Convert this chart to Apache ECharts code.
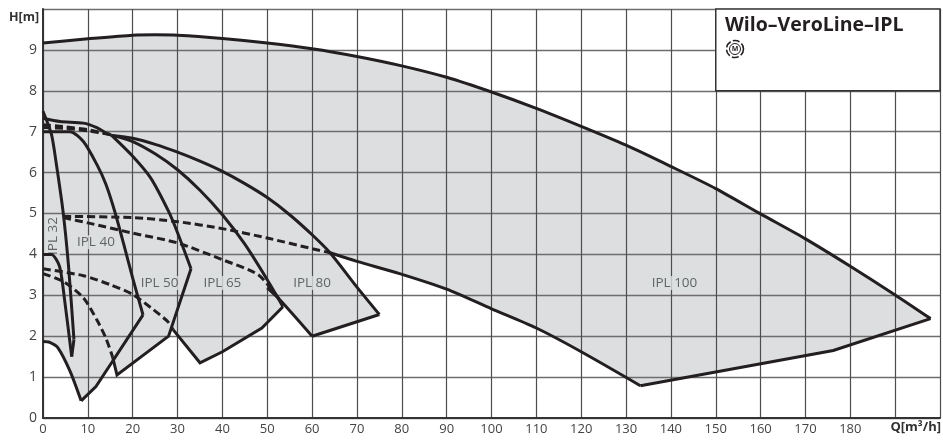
<!DOCTYPE html>
<html><head><meta charset="utf-8">
<style>html,body{margin:0;padding:0;background:#fff}#c{width:943px;height:444px}</style>
<script src="https://cdn.jsdelivr.net/npm/echarts@6/dist/echarts.min.js"></script>
</head><body><div id="c"></div>
<script>
const xTicks = [0,10,20,30,40,50,60,70,80,90,100,110,120,130,140,150,160,170,180];
const yTicks = [0,1,2,3,4,5,6,7,8,9];
const ipl100Top = [[0,9.17],[10,9.27],[20,9.36],[25,9.37],[30,9.36],[40,9.28],[50,9.17],[60,9.03],[70,8.84],[80,8.61],[90,8.33],[100,7.97],[110,7.57],[120,7.13],[130,6.67],[140,6.15],[150,5.61],[160,4.99],[170,4.38],[180,3.71],[190,3.01],[197.9,2.43]];
const ipl100Lower = [[64,4.04],[70,3.83],[79.5,3.53],[90,3.15],[100,2.67],[110,2.2],[120,1.62],[133.2,0.79]];
const ipl100Bottom = [[133.2,0.79],[176.2,1.65],[197.9,2.43]];
const sharedTop = [[0,7.33],[3.8,7.25],[9,7.21],[12,7.1],[14.2,6.96],[15.3,6.91]];
const ipl80Upper = [[15.3,6.91],[20,6.84],[25,6.69],[30,6.5],[35,6.28],[40,6.03],[45,5.73],[50,5.39],[55,4.97],[60,4.48],[64,4.04],[70,3.2],[75,2.53]];
const ipl80Bottom = [[75,2.53],[60,2.0]];
const ipl80Return = [[60,2.0],[52.8,2.89],[50,3.18]];
const ipl65Upper = [[15.3,6.91],[20,6.76],[25,6.46],[30,6.07],[35,5.57],[40,4.97],[45,4.25],[50,3.38],[53.5,2.72]];
const ipl65Bottom = [[53.5,2.72],[48.8,2.2],[40,1.62],[35,1.35],[29,2.16]];
const ipl50Upper = [[15.3,6.91],[20,6.4],[24,5.87],[28,5.05],[30,4.53],[33,3.65]];
const ipl50Bottom = [[33,3.65],[28,2.0],[16.5,1.05],[15.5,1.5]];
const ipl40Upper = [[0,7.0],[6,7.0],[9,6.76],[12,6.2],[14,5.72],[16,5.05],[18,4.25],[20,3.42],[22.3,2.52]];
const ipl40Bottom = [[22.3,2.52],[11.8,0.77],[8.5,0.42]];
const ipl40Lower = [[0,1.87],[1.5,1.85],[3.3,1.72],[6,1.15],[8.5,0.42]];
const ipl32Upper = [[0,7.5],[1.9,6.93],[3,6.19],[4.5,5.02],[5.7,3.7],[6.9,1.92]];
const ipl32Tip = [[6.9,1.92],[6.4,1.5]];
const ipl32Lower = [[0,4.0],[1.9,4.0],[3.7,3.7],[4.8,2.9],[6.4,1.5]];
const dashTop1 = [[0,7.17],[5,7.12],[10,7.05],[15,6.93]];
const dashTop2 = [[0,7.1],[5,7.08],[10,7.02],[15,6.93]];
const dash80 = [[4.5,4.93],[20,4.9],[30,4.8],[40,4.63],[50,4.4],[60,4.14],[64,4.04]];
const dash65 = [[4.5,4.9],[10,4.77],[20,4.52],[30,4.28],[40,3.87],[48,3.5],[52.8,2.89]];
const dash50 = [[0,3.65],[9,3.48],[15,3.26],[20,3.02],[24,2.7],[27.8,2.36],[29,2.16]];
const dash40 = [[0,3.53],[4.5,3.34],[9,2.94],[12,2.4],[14,1.96],[15.5,1.5]];
const shadedArea = [[0,1.87],[1.5,1.85],[3.3,1.72],[6,1.15],[8.5,0.42],[11.8,0.77],[15.5,1.5],[16.5,1.05],[28,2.0],[29,2.16],[35,1.35],[40,1.62],[48.8,2.2],[53.5,2.72],[52.8,2.89],[60,2.0],[75,2.53],[70,3.2],[64,4.04]].concat(ipl100Lower.slice(1), ipl100Bottom.slice(1), ipl100Top.slice().reverse());
const titleBox = [[150,8],[200,10]];
const pumpLabels = [['IPL 32',2.2,4.45,90],['IPL 40',11.8,4.3,0],['IPL 50',26,3.3,0],['IPL 65',40,3.3,0],['IPL 80',60,3.3,0],['IPL 100',140.8,3.3,0]];

const INK = '#231f20';
const solidCurves = [ipl100Top,ipl100Lower,sharedTop,ipl80Upper,ipl80Return,ipl65Upper,ipl50Upper,ipl40Upper,ipl40Lower,ipl32Upper,ipl32Lower];
const straightEdges = [ipl100Bottom,ipl80Bottom,ipl65Bottom,ipl50Bottom,ipl40Bottom,ipl32Tip];
const dashCurves = [dashTop1,dashTop2,dash80,dash65,dash50,dash40];
const lineSeries = (d,smooth,dashed)=>({type:'line',data:d,smooth:smooth?0.25:false,symbol:'none',silent:true,z:6,animation:false,lineStyle:{color:INK,width:3,type:dashed?[8,4]:'solid',cap:'butt',join:'miter'}});
const polygonSeries = (pts,z,style)=>({type:'custom',coordinateSystem:'cartesian2d',silent:true,animation:false,z,data:[pts[0]],encode:{x:0,y:1},clip:false,
  renderItem:(p,api)=>({type:'polygon',shape:{points:pts.map(q=>api.coord(q))},style})});
const boxCorners = [titleBox[0],[titleBox[1][0],titleBox[0][1]],titleBox[1],[titleBox[0][0],titleBox[1][1]]];

const chart = echarts.init(document.getElementById('c'),null,{renderer:'canvas'});
const FONT = '"Open Sans","Noto Sans",sans-serif';
chart.setOption({
  animation:false,backgroundColor:'#fff',
  grid:{left:43,right:2,top:9,bottom:26,containLabel:false},
  title:[
    {text:'Wilo–VeroLine–IPL',left:725,top:15,padding:0,textStyle:{fontFamily:FONT,fontWeight:700,fontSize:19.5,color:INK},z:9},
    {text:'H[m]',left:9,top:11,padding:0,textStyle:{fontFamily:FONT,fontWeight:700,fontSize:12.5,color:'#333'},z:9},
    {text:'Q[m³/h]',right:2,top:421,padding:0,textStyle:{fontFamily:FONT,fontWeight:700,fontSize:13,color:'#333'},z:9}
  ],
  xAxis:{type:'value',min:0,max:200,interval:10,z:3,
    axisLine:{show:true,onZero:false,lineStyle:{color:'#333',width:2}},axisTick:{show:false},
    axisLabel:{fontFamily:FONT,fontSize:13,color:'#444',margin:5,formatter:v=>xTicks.includes(v)?String(v):''},
    splitLine:{show:true,lineStyle:{color:'#4d4d4d',width:1.2}}},
  yAxis:{type:'value',min:0,max:10,interval:1,z:3,
    axisLine:{show:true,onZero:false,lineStyle:{color:'#333',width:2}},axisTick:{show:false},
    axisLabel:{fontFamily:FONT,fontSize:14,color:'#444',margin:6,formatter:v=>yTicks.includes(v)?String(v):''},
    splitLine:{show:true,lineStyle:{color:'#6e6e6e',width:1.4}}},
  graphic:[
    {type:'circle',shape:{cx:735,cy:49,r:5.5},style:{fill:'none',stroke:INK,lineWidth:1},z:20},
    {type:'circle',shape:{cx:735,cy:49,r:8.5},style:{fill:'none',stroke:INK,lineWidth:1.6,lineDash:[7,2.4]},z:20},
    {type:'text',x:735,y:49,style:{text:'M',fill:INK,font:'700 7px "Open Sans"',textAlign:'center',textVerticalAlign:'middle'},z:20}
  ],
  series:[
    polygonSeries(shadedArea,1,{fill:'#dcdee0',stroke:'none'}),
    polygonSeries(boxCorners,5,{fill:'#fff',stroke:'#333',lineWidth:1.5}),
    {type:'scatter',symbolSize:0,silent:true,animation:false,z:4,
     data:pumpLabels.map(l=>({name:l[0],value:[l[1],l[2]],label:{rotate:l[3]}})),
     label:{show:true,position:'inside',formatter:'{b}',fontFamily:FONT,fontSize:13.5,color:'#444',backgroundColor:'#dcdee0',padding:[0,1]}},
    ...solidCurves.map(d=>lineSeries(d,true,false)),
    ...straightEdges.map(d=>lineSeries(d,false,false)),
    ...dashCurves.map(d=>lineSeries(d,true,true))
  ]
});
</script></body></html>
